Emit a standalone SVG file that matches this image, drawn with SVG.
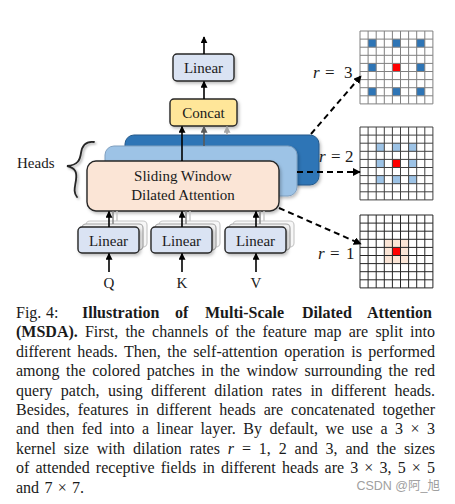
<svg xmlns="http://www.w3.org/2000/svg" width="455" height="504" viewBox="0 0 455 504">
<defs>
<marker id="ak" viewBox="0 0 10 10" refX="9" refY="5" markerWidth="7" markerHeight="7" markerUnits="userSpaceOnUse" orient="auto"><path d="M0,0 L10,5 L0,10 z" fill="#000"/></marker>
<marker id="ag" viewBox="0 0 10 10" refX="9" refY="5" markerWidth="7" markerHeight="7" markerUnits="userSpaceOnUse" orient="auto"><path d="M0,0 L10,5 L0,10 z" fill="#595959"/></marker>
<marker id="al" viewBox="0 0 10 10" refX="9" refY="5" markerWidth="7" markerHeight="7" markerUnits="userSpaceOnUse" orient="auto"><path d="M0,0 L10,5 L0,10 z" fill="#a6a6a6"/></marker>
<marker id="ad" viewBox="0 0 10 10" refX="9" refY="5" markerWidth="8" markerHeight="8" markerUnits="userSpaceOnUse" orient="auto"><path d="M0,0 L10,5 L0,10 z" fill="#000"/></marker>
<path id="gl" d="M0,0V72.9M8.1,0V72.9M16.2,0V72.9M24.3,0V72.9M32.4,0V72.9M40.5,0V72.9M48.6,0V72.9M56.7,0V72.9M64.8,0V72.9M72.9,0V72.9M0,0H72.9M0,8.1H72.9M0,16.2H72.9M0,24.3H72.9M0,32.4H72.9M0,40.5H72.9M0,48.6H72.9M0,56.7H72.9M0,64.8H72.9M0,72.9H72.9" fill="none"/>
<filter id="sh" x="-10%" y="-10%" width="130%" height="140%"><feDropShadow dx="1.5" dy="2" stdDeviation="1.5" flood-color="#000" flood-opacity="0.25"/></filter>
<filter id="sh2" x="-50%" y="-20%" width="200%" height="140%"><feDropShadow dx="1.5" dy="1.5" stdDeviation="1.2" flood-color="#000" flood-opacity="0.35"/></filter>
</defs>
<style>
text{font-family:"Liberation Serif","Times New Roman",serif;fill:#1a1a1a}
.bx{font-size:15px;text-anchor:middle}
.cap{font-size:16px}
.b{font-weight:bold}
.i{font-style:italic}
.rl{font-size:17px}
.fr{stroke:#262626;stroke-width:1.4}
.lin{fill:#dae3f3}
.c{stroke:#000;stroke-width:1.6;fill:none}
.d{stroke:#000;stroke-width:2;stroke-dasharray:6 4;fill:none}
</style>

<g id="heads">
<rect x="125" y="135" width="194" height="50" rx="9" fill="#2e75b6" stroke="#24598a" stroke-width="1" filter="url(#sh)"/>
<rect x="105" y="146" width="192" height="50" rx="9" fill="#9dc3e6" stroke="#7f9fbf" stroke-width="1" filter="url(#sh)"/>
</g>

<g id="sdat">
<rect x="87" y="161" width="192" height="50" rx="9" fill="#fbe5d6" class="fr" filter="url(#sh)"/>
<text class="bx" x="183" y="181">Sliding Window</text>
<text class="bx" x="183" y="200">Dilated Attention</text>
</g>

<g id="concat">
<rect x="170" y="99" width="67" height="27" rx="4" fill="#ffe699" class="fr" filter="url(#sh)"/>
<text class="bx" x="203.5" y="118">Concat</text>
</g>

<g id="linear-out">
<rect x="173" y="54" width="61" height="27" rx="4" class="lin fr" filter="url(#sh)"/>
<text class="bx" x="203.5" y="73">Linear</text>
</g>

<g id="linear-q">
<rect x="86" y="221" width="61" height="26" rx="4" fill="#f7f7f7" stroke="#c8c8c8" stroke-width="1.2"/>
<rect x="82" y="224" width="61" height="26" rx="4" fill="#f2f2f2" stroke="#a6a6a6" stroke-width="1.2"/>
<rect x="78" y="227" width="61" height="26" rx="4" class="lin fr" filter="url(#sh)"/>
<text class="bx" x="108.5" y="246">Linear</text>
<text class="bx" x="109" y="288">Q</text>
</g>
<g id="linear-k">
<rect x="159" y="221" width="61" height="26" rx="4" fill="#f7f7f7" stroke="#c8c8c8" stroke-width="1.2"/>
<rect x="155" y="224" width="61" height="26" rx="4" fill="#f2f2f2" stroke="#a6a6a6" stroke-width="1.2"/>
<rect x="151" y="227" width="61" height="26" rx="4" class="lin fr" filter="url(#sh)"/>
<text class="bx" x="181.5" y="246">Linear</text>
<text class="bx" x="182" y="288">K</text>
</g>
<g id="linear-v">
<rect x="233" y="221" width="61" height="26" rx="4" fill="#f7f7f7" stroke="#c8c8c8" stroke-width="1.2"/>
<rect x="229" y="224" width="61" height="26" rx="4" fill="#f2f2f2" stroke="#a6a6a6" stroke-width="1.2"/>
<rect x="225" y="227" width="61" height="26" rx="4" class="lin fr" filter="url(#sh)"/>
<text class="bx" x="255.5" y="246">Linear</text>
<text class="bx" x="256" y="288">V</text>
</g>

<g id="heads-label">
<text x="17" y="168" font-size="15">Heads</text>
<path d="M94,142 C86,141 82,146 81,153 C80,160 78,165 67,166 C76,168 77,173 76,180 C75,187 73,192 77,197" fill="none" stroke="#262626" stroke-width="1.8" stroke-linecap="round" filter="url(#sh2)"/>
</g>

<g id="grid-r3">
<rect x="368.1" y="39.1" width="8.1" height="8.1" fill="#2e75b6"/>
<rect x="392.4" y="39.1" width="8.1" height="8.1" fill="#2e75b6"/>
<rect x="416.7" y="39.1" width="8.1" height="8.1" fill="#2e75b6"/>
<rect x="368.1" y="63.4" width="8.1" height="8.1" fill="#2e75b6"/>
<rect x="392.4" y="63.4" width="8.1" height="8.1" fill="#ff0000"/>
<rect x="416.7" y="63.4" width="8.1" height="8.1" fill="#2e75b6"/>
<rect x="368.1" y="87.7" width="8.1" height="8.1" fill="#2e75b6"/>
<rect x="392.4" y="87.7" width="8.1" height="8.1" fill="#2e75b6"/>
<rect x="416.7" y="87.7" width="8.1" height="8.1" fill="#2e75b6"/>
<use href="#gl" x="360" y="31" stroke="#808080" stroke-width="1"/>
<text class="rl" y="78"><tspan class="i" x="313">r</tspan><tspan x="325">=</tspan><tspan x="344">3</tspan></text>
</g>

<g id="grid-r2">
<rect x="376.2" y="143.2" width="8.1" height="8.1" fill="#9dc3e6"/>
<rect x="392.4" y="143.2" width="8.1" height="8.1" fill="#9dc3e6"/>
<rect x="408.6" y="143.2" width="8.1" height="8.1" fill="#9dc3e6"/>
<rect x="376.2" y="159.4" width="8.1" height="8.1" fill="#9dc3e6"/>
<rect x="392.4" y="159.4" width="8.1" height="8.1" fill="#ff0000"/>
<rect x="408.6" y="159.4" width="8.1" height="8.1" fill="#9dc3e6"/>
<rect x="376.2" y="175.6" width="8.1" height="8.1" fill="#9dc3e6"/>
<rect x="392.4" y="175.6" width="8.1" height="8.1" fill="#9dc3e6"/>
<rect x="408.6" y="175.6" width="8.1" height="8.1" fill="#9dc3e6"/>
<use href="#gl" x="360" y="127" stroke="#404040" stroke-width="1"/>
<text class="rl" y="162"><tspan class="i" x="319">r</tspan><tspan x="331">=</tspan><tspan x="345">2</tspan></text>
</g>

<g id="grid-r1">
<rect x="384.3" y="239.3" width="24.3" height="24.3" fill="#fbe5d6"/>
<rect x="392.4" y="247.4" width="8.1" height="8.1" fill="#ff0000"/>
<use href="#gl" x="360" y="215" stroke="#262626" stroke-width="1"/>
<text class="rl" y="259"><tspan class="i" x="318">r</tspan><tspan x="330">=</tspan><tspan x="346">1</tspan></text>
</g>

<g id="connectors">
<line class="c" x1="204" y1="54" x2="204" y2="37" marker-end="url(#ak)"/>
<line class="c" x1="204" y1="99" x2="204" y2="81.5" marker-end="url(#ak)"/>
<line class="c" x1="182" y1="161" x2="182" y2="126.5" marker-end="url(#ak)"/>
<line x1="204" y1="146" x2="204" y2="126.5" stroke="#595959" stroke-width="1.6" marker-end="url(#ag)"/>
<line x1="227" y1="135" x2="227" y2="126.5" stroke="#a6a6a6" stroke-width="1.6" marker-end="url(#al)"/>

<line x1="117" y1="221" x2="117" y2="211" stroke="#c8c8c8" stroke-width="1.4"/>
<line x1="113" y1="224" x2="113" y2="211" stroke="#808080" stroke-width="1.4"/>
<line class="c" x1="109" y1="227" x2="109" y2="211.5" marker-end="url(#ak)"/>
<line x1="190" y1="221" x2="190" y2="211" stroke="#c8c8c8" stroke-width="1.4"/>
<line x1="186" y1="224" x2="186" y2="211" stroke="#808080" stroke-width="1.4"/>
<line class="c" x1="182" y1="227" x2="182" y2="211.5" marker-end="url(#ak)"/>
<line x1="264" y1="221" x2="264" y2="211" stroke="#c8c8c8" stroke-width="1.4"/>
<line x1="260" y1="224" x2="260" y2="211" stroke="#808080" stroke-width="1.4"/>
<line class="c" x1="256" y1="227" x2="256" y2="211.5" marker-end="url(#ak)"/>

<line class="c" x1="109" y1="272" x2="109" y2="253.5" marker-end="url(#ak)"/>
<line class="c" x1="182" y1="272" x2="182" y2="253.5" marker-end="url(#ak)"/>
<line class="c" x1="256" y1="272" x2="256" y2="253.5" marker-end="url(#ak)"/>

<line class="d" x1="311" y1="134" x2="361" y2="76" marker-end="url(#ad)"/>
<line class="d" x1="297" y1="172" x2="360" y2="172" marker-end="url(#ad)"/>
<line class="d" x1="279" y1="208" x2="361" y2="244" marker-end="url(#ad)"/>
</g>

<g id="caption" class="cap">
<text y="318"><tspan x="16">Fig.</tspan><tspan x="46">4:</tspan><tspan class="b" x="82">Illustration</tspan><tspan class="b" x="175">of</tspan><tspan class="b" x="205">Multi-Scale</tspan><tspan class="b" x="302">Dilated</tspan><tspan class="b" x="367">Attention</tspan></text>
<text x="16" y="337.4" word-spacing="3.15" textLength="419" lengthAdjust="spacing"><tspan class="b">(MSDA).</tspan> First, the channels of the feature map are split into</text>
<text x="16" y="356.8" word-spacing="2.41" textLength="419" lengthAdjust="spacing">different heads. Then, the self-attention operation is performed</text>
<text x="16" y="376.2" word-spacing="2.57" textLength="419" lengthAdjust="spacing">among the colored patches in the window surrounding the red</text>
<text x="16" y="395.6" word-spacing="4.39" textLength="419" lengthAdjust="spacing">query patch, using different dilation rates in different heads.</text>
<text x="16" y="415" word-spacing="3.87" textLength="419" lengthAdjust="spacing">Besides, features in different heads are concatenated together</text>
<text x="16" y="434.4" word-spacing="3.45" textLength="419" lengthAdjust="spacing">and then fed into a linear layer. By default, we use a 3 × 3</text>
<text x="16" y="453.8" word-spacing="3.88" textLength="419" lengthAdjust="spacing">kernel size with dilation rates <tspan class="i">r</tspan> = 1, 2 and 3, and the sizes</text>
<text x="16" y="473.2" word-spacing="2.13" textLength="419" lengthAdjust="spacing">of attended receptive fields in different heads are 3 × 3, 5 × 5</text>
<text x="16" y="492.6" word-spacing="1.3">and 7 × 7.</text>
</g>
<text x="440" y="490" text-anchor="end" font-size="12.5" style="fill:#a0a0a0;font-family:'Liberation Sans','Noto Sans CJK SC',sans-serif">CSDN @阿_旭</text>
</svg>
